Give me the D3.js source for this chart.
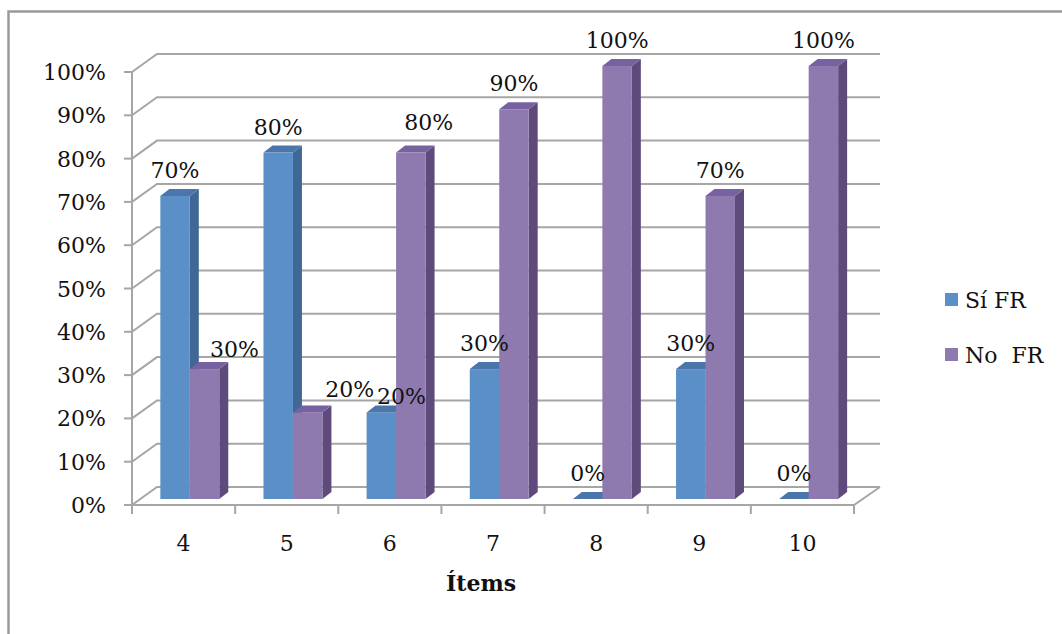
<!DOCTYPE html>
<html>
<head>
<meta charset="utf-8">
<script src="https://cdn.jsdelivr.net/npm/d3@7"></script>
<style>
  body { margin: 0; background: #fff; }
  svg text { font-family: "DejaVu Serif", serif; fill: #111; }
</style>
</head>
<body>
<svg width="1062" height="634"></svg>
<script>
// data
const items = ['4', '5', '6', '7', '8', '9', '10'];
const seriesNames = ['Sí FR', 'No  FR'];
const siFR = [0.7, 0.8, 0.2, 0.3, 0, 0.3, 0];
const noFR = [0.3, 0.2, 0.8, 0.9, 1, 0.7, 1];
const yTicks = [0, 0.1, 0.2, 0.3, 0.4, 0.5, 0.6, 0.7, 0.8, 0.9, 1];
const axisTitle = 'Ítems';

// a few labels were dragged aside in the original so they don't collide
const labelShift = { '4|No  FR': [30, 6], '5|No  FR': [42, 3], '6|Sí FR': [20, 10], '6|No  FR': [18, -5] };

const colors = {
    'Sí FR': { front: '#5b8fc7', side: '#3f6896', top: '#4b76ab' },
    'No  FR': { front: '#8f7ab0', side: '#5f4b7b', top: '#7662a0' }
};

const svg = d3.select('svg');

// chart frame
svg.append('rect')
    .attr('x', 8.5).attr('y', 11.5)
    .attr('width', 1080).attr('height', 640)
    .attr('fill', 'none').attr('stroke', '#9a9a9a').attr('stroke-width', 2.5);

// front axis box + 3d offsets
const x = d3.scaleBand().domain(items).range([132, 854]);
const y = d3.scaleLinear().domain([0, 1]).range([505, 72]);
const wall = [25, -18];   // back wall
const plane = [8, -6];    // front face of the bars
const depth = [9, -7];    // bar depth
const wallRight = 880;

const sub = d3.scaleBand().domain(seriesNames).range([0, x.bandwidth()])
    .paddingInner(0).paddingOuter(0.75).align(0.46);

const grid = svg.append('g')
    .attr('fill', 'none').attr('stroke', '#a6a6a6').attr('stroke-width', 2);

// gridlines on the back wall with the diagonal on the side wall
yTicks.forEach(v => {
    const yy = y(v);
    grid.append('path')
        .attr('d', `M${x.range()[0]},${yy} L${x.range()[0] + wall[0]},${yy + wall[1]} L${wallRight},${yy + wall[1]}`);
});

// floor front edge + right diagonal
grid.append('path')
    .attr('d', `M${x.range()[0]},${y(0)} L${x.range()[1]},${y(0)} L${wallRight},${y(0) + wall[1]}`);

// value axis line + ticks
grid.append('path').attr('d', `M${x.range()[0]},${y(0)} V${y(1)}`);
yTicks.forEach(v => {
    grid.append('path').attr('d', `M${x.range()[0] - 8},${y(v)} H${x.range()[0]}`);
});

// category ticks
items.concat(['end']).forEach((c, i) => {
    const xx = i < items.length ? x(c) : x.range()[1];
    grid.append('path').attr('d', `M${xx},${y(0)} V${y(0) + 9}`);
});

// y tick labels
svg.append('g').selectAll('text')
    .data(yTicks)
    .enter().append('text')
    .attr('x', 106)
    .attr('y', d => y(d) + 8)
    .attr('text-anchor', 'end')
    .attr('font-size', 22)
    .text(d3.format('.0%'));

// category labels
svg.append('g').selectAll('text')
    .data(items)
    .enter().append('text')
    .attr('x', d => x(d) + x.bandwidth() / 2)
    .attr('y', 551)
    .attr('text-anchor', 'middle')
    .attr('font-size', 22)
    .text(d => d);

// axis title
svg.append('text')
    .attr('x', 481).attr('y', 591)
    .attr('text-anchor', 'middle')
    .attr('font-size', 22)
    .attr('font-weight', 'bold')
    .text(axisTitle);

// bars
const rows = [];
items.forEach((c, i) => {
    rows.push({ cat: c, s: 'Sí FR', v: siFR[i] });
    rows.push({ cat: c, s: 'No  FR', v: noFR[i] });
});

const bars = svg.append('g');
rows.forEach(d => {
    const L = x(d.cat) + sub(d.s) + plane[0];
    const R = L + sub.bandwidth();
    const top = y(d.v) + plane[1];
    const bot = y(0) + plane[1];
    const col = colors[d.s];
    const g = bars.append('g');
    g.append('polygon')
        .attr('points', [[R, top], [R + depth[0], top + depth[1]], [R + depth[0], bot + depth[1]], [R, bot]].join(' '))
        .attr('fill', col.side);
    g.append('rect')
        .attr('x', L).attr('y', top)
        .attr('width', R - L).attr('height', bot - top)
        .attr('fill', col.front);
    g.append('polygon')
        .attr('points', [[L, top], [L + depth[0], top + depth[1]], [R + depth[0], top + depth[1]], [R, top]].join(' '))
        .attr('fill', col.top);
    d.cx = (L + R) / 2;
    d.ty = top;
});

// value labels
svg.append('g').selectAll('text')
    .data(rows)
    .enter().append('text')
    .attr('x', d => d.cx + (labelShift[d.cat + '|' + d.s] || [0, 0])[0])
    .attr('y', d => d.ty - 18 + (labelShift[d.cat + '|' + d.s] || [0, 0])[1])
    .attr('text-anchor', 'middle')
    .attr('font-size', 22)
    .text(d => d3.format('.0%')(d.v));

// legend
const legend = svg.append('g').selectAll('g')
    .data(seriesNames)
    .enter().append('g')
    .attr('transform', (d, i) => `translate(945,${293 + i * 55})`);
legend.append('rect')
    .attr('width', 13).attr('height', 13)
    .attr('fill', d => colors[d].front);
legend.append('text')
    .attr('x', 20).attr('y', 15)
    .attr('font-size', 22)
    .style('white-space', 'pre')
    .text(d => d);
</script>
</body>
</html>
